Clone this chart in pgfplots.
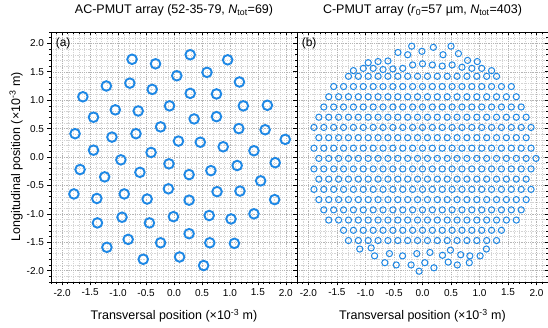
\documentclass[border=0pt]{standalone}
\usepackage{pgfplots}
\pgfplotsset{compat=1.18}
\usepackage{fontspec}
\setmainfont{Liberation Sans}

\definecolor{elem}{RGB}{30,136,229}
\definecolor{gridc}{RGB}{212,212,212}

\pgfplotsset{
  panel/.style={
    scale only axis, height=250pt,
    xmin=-2.2, xmax=2.2, ymin=-2.2, ymax=2.2,
    xtick={-2,-1.5,...,2}, ytick={-2,-1.5,...,2},
    minor xtick={-2.2,-2.1,...,2.21}, minor ytick={-2.2,-2.1,...,2.21},
    major tick length=3.5pt, minor tick length=2pt,
    every tick/.style={black, line width=0.6pt},
    axis line style={black, line width=0.8pt},
    tick label style={font=\fontsize{10}{12}\selectfont},
    label style={font=\fontsize{12.5}{15}\selectfont},
    title style={font=\fontsize{12.5}{15}\selectfont, at={(0.5,1)}, anchor=base, yshift=12.5pt},
    xlabel style={at={(axis description cs:0.5,0)}, anchor=base, yshift=-38pt},
    /pgf/number format/.cd, fixed, fixed zerofill, precision=1, assume math mode=true,
  },
  gridded/.style={
    grid=both,
    minor grid style={gridc, dash pattern=on 1.2pt off 1pt, line width=0.35pt},
    major grid style={gridc!85!black, dash pattern=on 1.2pt off 1pt, line width=0.4pt},
    xtick pos=left, ytick pos=left, tick align=outside,
  },
  mirror/.style={
    xtick pos=right, ytick pos=right, tick align=inside,
    xticklabels={}, yticklabels={},
  },
}

\begin{document}
\begin{tikzpicture}
\useasboundingbox (-51pt,-46pt) rectangle (497pt,282pt);

% ---------------- (a) AC-PMUT array ----------------
\begin{axis}[panel, gridded, width=246pt, at={(0,0)}, anchor=south west,
  title={AC-PMUT array (52-35-79, \textit{N}\textsubscript{tot}=69)},
  xlabel={Transversal position (×10\textsuperscript{-3} m)},
  ylabel={Longitudinal position (×10\textsuperscript{-3} m)},
  ylabel style={at={(axis description cs:-0.126,0.5)}, anchor=base},
  extra description/.code={\node[anchor=north west, font=\fontsize{12}{14}\selectfont] at (0.005,0.99) {(a)};}]
\addplot[only marks, mark=o, mark size=4.8pt, mark options={draw=elem, line width=1.9pt}] coordinates {
(-0.75,1.72) (-0.33,1.64) (0.29,1.80) (0.96,1.71) (0.05,1.43) (0.59,1.49)
(-1.21,1.25) (-0.79,1.30) (-0.39,1.19) (1.17,1.32) (0.29,1.12) (0.76,1.11)
(-1.63,1.06) (-1.05,0.83) (-0.64,0.81) (-0.08,0.90) (1.24,0.90) (1.67,0.91)
(-1.44,0.70) (0.36,0.67) (0.76,0.71) (-1.77,0.41) (-1.11,0.35) (-0.68,0.41)
(-0.24,0.53) (1.16,0.50) (1.63,0.48) (0.08,0.28) (0.47,0.26) (0.88,0.18)
(-1.44,0.12) (-0.41,0.08) (1.43,0.11) (1.99,0.31) (-0.95,-0.05) (1.81,-0.10)
(-1.68,-0.22) (-1.24,-0.35) (-0.61,-0.27) (-0.09,-0.12) (0.27,-0.31) (0.66,-0.24)
(1.13,-0.15) (1.55,-0.42) (-1.79,-0.65) (-1.38,-0.73) (-0.89,-0.65) (-0.48,-0.74)
(-0.10,-0.56) (0.27,-0.76) (0.77,-0.61) (1.18,-0.60) (1.80,-0.75) (-1.37,-1.16)
(-0.93,-1.06) (-0.44,-1.16) (-0.01,-1.05) (0.63,-1.03) (1.02,-1.09) (1.43,-1.00)
(0.27,-1.35) (-0.82,-1.45) (-1.20,-1.59) (-0.24,-1.51) (0.64,-1.51) (1.08,-1.52)
(-0.55,-1.80) (0.10,-1.76) (0.53,-1.91)
};
\end{axis}
\begin{axis}[panel, mirror, width=246pt, at={(0,0)}, anchor=south west]
\end{axis}

% ---------------- (b) C-PMUT array ----------------
\begin{axis}[panel, gridded, width=251pt, at={(246pt,0)}, anchor=south west,
  yticklabels={},
  title={C-PMUT array (\textit{r}\textsubscript{0}=57 µm, \textit{N}\textsubscript{tot}=403)},
  xlabel={Transversal position (×10\textsuperscript{-3} m)},
  extra description/.code={\node[anchor=north west, font=\fontsize{12}{14}\selectfont] at (0.005,0.99) {(b)};}]
\addplot[only marks, mark=o, mark size=3.1pt, mark options={draw=elem, line width=1.0pt}] coordinates {
(-0.19,1.95) (0.19,1.93) (0.50,1.95)
(-0.43,1.84) (-0.26,1.80) (-0.01,1.86) (0.36,1.80) (0.63,1.82)
(-0.952,1.66) (-0.779,1.68) (-0.606,1.69) (0.79,1.70) (0.96,1.68)
(-1.211,1.52) (-1.038,1.56) (-0.865,1.56) (-0.692,1.54) (-0.519,1.55) (-0.346,1.56) (-0.173,1.62) (0,1.64) (0.173,1.62) (0.346,1.60) (0.519,1.62) (0.692,1.58) (0.865,1.56) (1.038,1.56) (1.211,1.52)
(-1.298,1.42) (-1.125,1.42) (-0.952,1.42) (-0.779,1.42) (-0.606,1.42) (-0.433,1.42) (-0.260,1.42) (-0.087,1.42) (0.087,1.42) (0.260,1.42) (0.433,1.42) (0.606,1.42) (0.779,1.42) (0.952,1.42) (1.125,1.42) (1.298,1.42)
(-1.557,1.24) (-1.384,1.24) (-1.211,1.24) (-1.038,1.24) (-0.865,1.24) (-0.692,1.24) (-0.519,1.24) (-0.346,1.24) (-0.173,1.24) (0,1.24) (0.173,1.24) (0.346,1.24) (0.519,1.24) (0.692,1.24) (0.865,1.24) (1.038,1.24) (1.211,1.24) (1.384,1.24) (1.557,1.24)
(-1.644,1.06) (-1.471,1.06) (-1.298,1.06) (-1.125,1.06) (-0.952,1.06) (-0.779,1.06) (-0.606,1.06) (-0.433,1.06) (-0.260,1.06) (-0.087,1.06) (0.087,1.06) (0.260,1.06) (0.433,1.06) (0.606,1.06) (0.779,1.06) (0.952,1.06) (1.125,1.06) (1.298,1.06) (1.471,1.06) (1.644,1.06)
(-1.730,0.88) (-1.557,0.88) (-1.384,0.88) (-1.211,0.88) (-1.038,0.88) (-0.865,0.88) (-0.692,0.88) (-0.519,0.88) (-0.346,0.88) (-0.173,0.88) (0,0.88) (0.173,0.88) (0.346,0.88) (0.519,0.88) (0.692,0.88) (0.865,0.88) (1.038,0.88) (1.211,0.88) (1.384,0.88) (1.557,0.88) (1.730,0.88)
(-1.817,0.70) (-1.644,0.70) (-1.471,0.70) (-1.298,0.70) (-1.125,0.70) (-0.952,0.70) (-0.779,0.70) (-0.606,0.70) (-0.433,0.70) (-0.260,0.70) (-0.087,0.70) (0.087,0.70) (0.260,0.70) (0.433,0.70) (0.606,0.70) (0.779,0.70) (0.952,0.70) (1.125,0.70) (1.298,0.70) (1.471,0.70) (1.644,0.70) (1.817,0.70)
(-1.903,0.52) (-1.730,0.52) (-1.557,0.52) (-1.384,0.52) (-1.211,0.52) (-1.038,0.52) (-0.865,0.52) (-0.692,0.52) (-0.519,0.52) (-0.346,0.52) (-0.173,0.52) (0,0.52) (0.173,0.52) (0.346,0.52) (0.519,0.52) (0.692,0.52) (0.865,0.52) (1.038,0.52) (1.211,0.52) (1.384,0.52) (1.557,0.52) (1.730,0.52) (1.903,0.52)
(-1.817,0.34) (-1.644,0.34) (-1.471,0.34) (-1.298,0.34) (-1.125,0.34) (-0.952,0.34) (-0.779,0.34) (-0.606,0.34) (-0.433,0.34) (-0.260,0.34) (-0.087,0.34) (0.087,0.34) (0.260,0.34) (0.433,0.34) (0.606,0.34) (0.779,0.34) (0.952,0.34) (1.125,0.34) (1.298,0.34) (1.471,0.34) (1.644,0.34) (1.817,0.34)
(-1.903,0.155) (-1.730,0.155) (-1.557,0.155) (-1.384,0.155) (-1.211,0.155) (-1.038,0.155) (-0.865,0.155) (-0.692,0.155) (-0.519,0.155) (-0.346,0.155) (-0.173,0.155) (0,0.155) (0.173,0.155) (0.346,0.155) (0.519,0.155) (0.692,0.155) (0.865,0.155) (1.038,0.155) (1.211,0.155) (1.384,0.155) (1.557,0.155) (1.730,0.155) (1.903,0.155)
(-1.817,-0.025) (-1.644,-0.025) (-1.471,-0.025) (-1.298,-0.025) (-1.125,-0.025) (-0.952,-0.025) (-0.779,-0.025) (-0.606,-0.025) (-0.433,-0.025) (-0.260,-0.025) (-0.087,-0.025) (0.087,-0.025) (0.260,-0.025) (0.433,-0.025) (0.606,-0.025) (0.779,-0.025) (0.952,-0.025) (1.125,-0.025) (1.298,-0.025) (1.471,-0.025) (1.644,-0.025) (1.817,-0.025) (1.990,-0.025)
(-1.903,-0.21) (-1.730,-0.21) (-1.557,-0.21) (-1.384,-0.21) (-1.211,-0.21) (-1.038,-0.21) (-0.865,-0.21) (-0.692,-0.21) (-0.519,-0.21) (-0.346,-0.21) (-0.173,-0.21) (0,-0.21) (0.173,-0.21) (0.346,-0.21) (0.519,-0.21) (0.692,-0.21) (0.865,-0.21) (1.038,-0.21) (1.211,-0.21) (1.384,-0.21) (1.557,-0.21) (1.730,-0.21) (1.903,-0.21)
(-1.817,-0.39) (-1.644,-0.39) (-1.471,-0.39) (-1.298,-0.39) (-1.125,-0.39) (-0.952,-0.39) (-0.779,-0.39) (-0.606,-0.39) (-0.433,-0.39) (-0.260,-0.39) (-0.087,-0.39) (0.087,-0.39) (0.260,-0.39) (0.433,-0.39) (0.606,-0.39) (0.779,-0.39) (0.952,-0.39) (1.125,-0.39) (1.298,-0.39) (1.471,-0.39) (1.644,-0.39) (1.817,-0.39)
(-1.903,-0.57) (-1.730,-0.57) (-1.557,-0.57) (-1.384,-0.57) (-1.211,-0.57) (-1.038,-0.57) (-0.865,-0.57) (-0.692,-0.57) (-0.519,-0.57) (-0.346,-0.57) (-0.173,-0.57) (0,-0.57) (0.173,-0.57) (0.346,-0.57) (0.519,-0.57) (0.692,-0.57) (0.865,-0.57) (1.038,-0.57) (1.211,-0.57) (1.384,-0.57) (1.557,-0.57) (1.730,-0.57) (1.903,-0.57)
(-1.817,-0.75) (-1.644,-0.75) (-1.471,-0.75) (-1.298,-0.75) (-1.125,-0.75) (-0.952,-0.75) (-0.779,-0.75) (-0.606,-0.75) (-0.433,-0.75) (-0.260,-0.75) (-0.087,-0.75) (0.087,-0.75) (0.260,-0.75) (0.433,-0.75) (0.606,-0.75) (0.779,-0.75) (0.952,-0.75) (1.125,-0.75) (1.298,-0.75) (1.471,-0.75) (1.644,-0.75) (1.817,-0.75)
(-1.730,-0.93) (-1.557,-0.93) (-1.384,-0.93) (-1.211,-0.93) (-1.038,-0.93) (-0.865,-0.93) (-0.692,-0.93) (-0.519,-0.93) (-0.346,-0.93) (-0.173,-0.93) (0,-0.93) (0.173,-0.93) (0.346,-0.93) (0.519,-0.93) (0.692,-0.93) (0.865,-0.93) (1.038,-0.93) (1.211,-0.93) (1.384,-0.93) (1.557,-0.93) (1.730,-0.93)
(-1.644,-1.11) (-1.471,-1.11) (-1.298,-1.11) (-1.125,-1.11) (-0.952,-1.11) (-0.779,-1.11) (-0.606,-1.11) (-0.433,-1.11) (-0.260,-1.11) (-0.087,-1.11) (0.087,-1.11) (0.260,-1.11) (0.433,-1.11) (0.606,-1.11) (0.779,-1.11) (0.952,-1.11) (1.125,-1.11) (1.298,-1.11) (1.471,-1.11) (1.644,-1.11)
(-1.384,-1.29) (-1.211,-1.29) (-1.038,-1.29) (-0.865,-1.29) (-0.692,-1.29) (-0.519,-1.29) (-0.346,-1.29) (-0.173,-1.29) (0,-1.29) (0.173,-1.29) (0.346,-1.29) (0.519,-1.29) (0.692,-1.29) (0.865,-1.29) (1.038,-1.29) (1.211,-1.29) (1.384,-1.29)
(-1.298,-1.47) (-1.125,-1.47) (-0.952,-1.47) (-0.779,-1.47) (-0.606,-1.47) (-0.433,-1.47) (-0.260,-1.47) (-0.087,-1.47) (0.087,-1.47) (0.260,-1.47) (0.433,-1.47) (0.606,-1.47) (0.779,-1.47) (0.952,-1.47) (1.125,-1.47) (1.298,-1.47)
(-1.10,-1.62) (-0.90,-1.60) (-0.84,-1.74) (-0.58,-1.70) (-0.35,-1.74) (-0.10,-1.70) (0.13,-1.68) (0.35,-1.73) (0.49,-1.64) (0.67,-1.72) (0.83,-1.74) (1.01,-1.74) (1.12,-1.62)
(-0.66,-1.86) (-0.46,-1.90) (-0.20,-1.90) (0.04,-1.86) (0.20,-1.95) (0.45,-1.85) (0.61,-1.90) (0.82,-1.86)
(-0.06,-2.01)
};
\end{axis}
\begin{axis}[panel, mirror, width=251pt, at={(246pt,0)}, anchor=south west]
\end{axis}
\end{tikzpicture}
\end{document}
